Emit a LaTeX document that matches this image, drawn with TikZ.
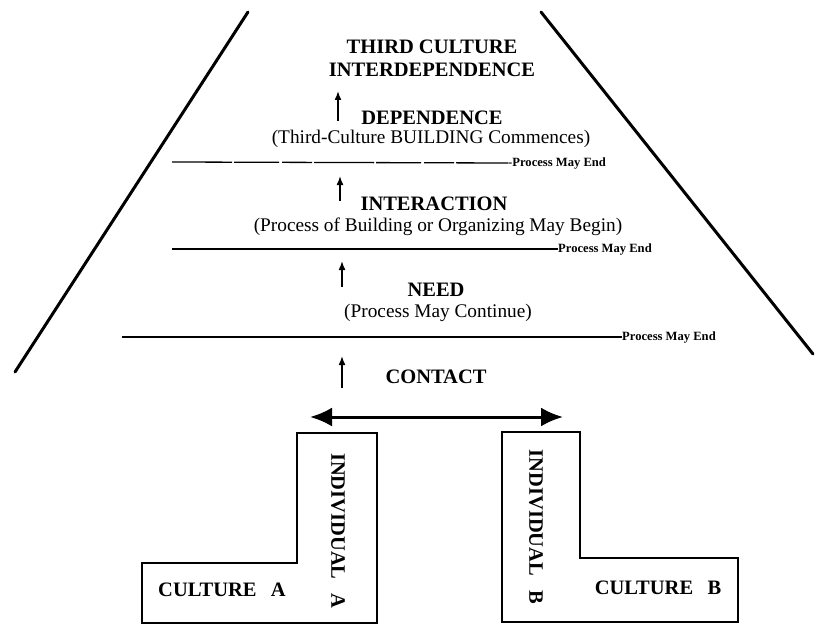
\documentclass[tikz,border=0pt]{standalone}
\usepackage{fontspec}
\setmainfont{Liberation Serif}
\usetikzlibrary{arrows.meta}

\tikzset{
  head/.style={font=\fontsize{20.5}{22}\selectfont\bfseries, inner sep=0pt, align=center},
  sub/.style={font=\fontsize{19.3}{21}\selectfont, inner sep=0pt},
  endlbl/.style={font=\fontsize{12.6}{14}\selectfont\bfseries, inner sep=0pt, anchor=west},
  level/.style={line width=1.3pt},
  upar/.style={line width=1.6pt, -{Latex[length=9pt, width=7pt]}},
  side/.style={line width=3pt, line cap=round},
  lbox/.style={line width=1.6pt, line join=miter},
}

\begin{document}
\begin{tikzpicture}[x=1pt, y=-1pt]
\useasboundingbox (0,0) rectangle (817,626);

% pyramid sides
\draw[side] (248,12) -- (15,372);
\draw[side] (541,12) -- (813,354);

% top levels
\node[head] (third) at (432,58) {THIRD CULTURE\\[1pt]INTERDEPENDENCE};
\node[head] (dep) at (432,118) {DEPENDENCE};
\node[sub] (depsub) at (431,139) {(Third-Culture BUILDING Commences)};

\node[endlbl] (end1) at (508,163) {-Process May End};
\coordinate (l1) at (172,162);
\draw[level, dash pattern=on 60pt off 2pt on 45pt off 3pt on 30pt off 2pt] (l1) -- (end1.west);

\node[head] (inter) at (434,204) {INTERACTION};
\node[sub] (intersub) at (438,227) {(Process of Building or Organizing May Begin)};

\node[endlbl] (end2) at (558,249) {Process May End};
\coordinate (l2) at (172,249);
\draw[level] (l2) -- (end2.west);

\node[head] (need) at (436,290) {NEED};
\node[sub] (needsub) at (438,313) {(Process May Continue)};

\node[endlbl] (end3) at (622,337) {Process May End};
\coordinate (l3) at (122,337);
\draw[level] (l3) -- (end3.west);

\node[head] (contact) at (436,377) {CONTACT};

% upward arrows
\coordinate (a1) at (338,121); \coordinate (b1) at (338,91);
\coordinate (a2) at (340,201); \coordinate (b2) at (340,176);
\coordinate (a3) at (342,287); \coordinate (b3) at (342,261);
\coordinate (a4) at (342,388); \coordinate (b4) at (342,356);
\foreach \i in {1,...,4}
  \draw[upar] (a\i) -- (b\i);

% contact arrow
\coordinate (ca) at (310,417);
\coordinate (cb) at (563,417);
\draw[line width=3pt, {Latex[length=22pt, width=19pt]}-{Latex[length=22pt, width=19pt]}] (ca) -- (cb);

% culture A / individual A
\draw[lbox] (142,563) -- (297,563) -- (297,433) -- (377,433) -- (377,623) -- (142,623) -- cycle;
\node[head] (cultA) at (222,590) {CULTURE\hspace{0.7em}A};
\node[head, rotate=-90] (indA) at (338,531) {INDIVIDUAL\hspace{0.7em}A};

% culture B / individual B
\draw[lbox] (502,432) -- (580,432) -- (580,558) -- (738,558) -- (738,622) -- (502,622) -- cycle;
\node[head] (cultB) at (658,588) {CULTURE\hspace{0.7em}B};
\node[head, rotate=-90] (indB) at (536,527) {INDIVIDUAL\hspace{0.7em}B};

\end{tikzpicture}
\end{document}
